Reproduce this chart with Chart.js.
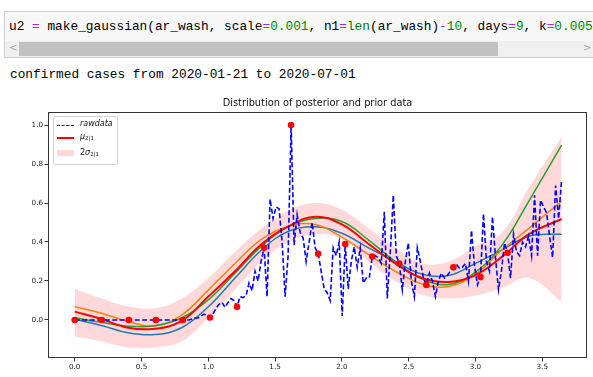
<!DOCTYPE html>
<html>
<head>
<meta charset="utf-8">
<script src="https://cdn.jsdelivr.net/npm/chart.js@4.4.0/dist/chart.umd.min.js"></script>
<style>
body { margin:0; width:593px; height:377px; overflow:hidden; background:#fff; position:relative; font-family:"DejaVu Sans", sans-serif; }
.cell { position:absolute; left:4px; top:11px; width:620px; height:45px; border:1px solid #cfcfcf; background:#f7f7f7; overflow:hidden; }
.code { position:absolute; left:4px; top:7px; font-family:"Liberation Mono", monospace; font-size:12.8px; line-height:15px; white-space:pre; color:#000; }
.o { color:#aa22ff; }
.n { color:#008800; }
.b { color:#008000; }
.scroll { position:absolute; left:0; top:29px; width:620px; height:16px; background:#f0f0f0; }
.thumb { position:absolute; left:14px; top:1px; width:479px; height:14px; background:#c1c1c1; }
.arrow { position:absolute; top:1px; font-size:10px; color:#a3a3a3; }
.out { position:absolute; left:10px; top:67px; font-family:"Liberation Mono", monospace; font-size:12.8px; line-height:15px; white-space:pre; color:#000; }
#chartBox { position:absolute; left:0; top:91px; }
.legend { position:absolute; left:53px; top:116px; width:63px; height:47px; border:1px solid #d5d5d5; border-radius:2px; background:rgba(255,255,255,0.85); font-size:8px; color:#111; }
.row { position:absolute; left:3px; height:10px; }
.row .sw { position:absolute; left:0; width:17px; }
.row .lab { position:absolute; left:23px; top:-1px; white-space:nowrap; font-style:italic; }
.row sub { font-size:5.5px; font-style:normal; vertical-align:-1px; }
</style>
</head>
<body>
<div class="cell">
  <div class="code">u2 <span class="o">=</span> make_gaussian(ar_wash, scale<span class="o">=</span><span class="n">0.001</span>, n1<span class="o">=</span><span class="b">len</span>(ar_wash)<span class="o">-</span><span class="n">10</span>, days<span class="o">=</span><span class="n">9</span>, k<span class="o">=</span><span class="n">0.005</span>)</div>
  <div class="scroll">
    <span class="arrow" style="left:4px">&lt;</span>
    <div class="thumb"></div>
    <span class="arrow" style="left:578px">&gt;</span>
  </div>
</div>
<div class="out">confirmed cases from 2020-01-21 to 2020-07-01</div>

<canvas id="chartBox" width="593" height="286"></canvas>

<div class="legend">
  <div class="row" style="top:3px"><div class="sw" style="top:5px;border-top:1.5px dashed #0000ff"></div><span class="lab">rawdata</span></div>
  <div class="row" style="top:16px"><div class="sw" style="top:4px;border-top:2px solid #ff0000"></div><span class="lab">μ<sub>2|1</sub></span></div>
  <div class="row" style="top:32px"><div class="sw" style="top:1px;height:6px;background:#ffd9d9"></div><span class="lab"><span style="font-style:normal">2</span>σ<sub>2|1</sub></span></div>
</div>

<script>
// raw daily values, one per day (day 0 .. 162)
const rawData = [
  0, 0, 0, 0, 0, 0, 0, 0, 0, 0, 0, 0, 0, 0, 0, 0, 0, 0, 0, 0,
  0, 0, 0, 0, 0, 0, 0, 0, 0, 0, 0, 0, 0, 0, 0, 0, 0, 0, 0, 0.005,
  0.01, 0.01, 0.02, 0.03, 0.025, 0.013, 0.03, 0.06, 0.08, 0.09, 0.065, 0.09, 0.11, 0.1, 0.068, 0.12, 0.115, 0.125, 0.19, 0.15,
  0.25, 0.2, 0.3, 0.37, 0.12, 0.62, 0.52, 0.58, 0.57, 0.4, 0.12, 0.33, 1.0, 0.385, 0.54, 0.45, 0.42, 0.3, 0.4, 0.5,
  0.37, 0.34, 0.25, 0.16, 0.14, 0.1, 0.37, 0.33, 0.4, 0.02, 0.39, 0.16, 0.3, 0.375, 0.27, 0.37, 0.19, 0.215, 0.215, 0.325,
  0.33, 0.32, 0.29, 0.555, 0.11, 0.35, 0.64, 0.33, 0.29, 0.155, 0.3, 0.395, 0.2, 0.12, 0.37, 0.3, 0.215, 0.18, 0.24, 0.2,
  0.12, 0.2, 0.24, 0.215, 0.23, 0.25, 0.27, 0.285, 0.265, 0.27, 0.29, 0.2, 0.46, 0.28, 0.18, 0.22, 0.545, 0.3, 0.25, 0.53,
  0.32, 0.155, 0.255, 0.395, 0.345, 0.215, 0.44, 0.35, 0.33, 0.4, 0.375, 0.43, 0.33, 0.64, 0.33, 0.615, 0.58, 0.55, 0.43, 0.32,
  0.69, 0.52, 0.72
];
const dayStep = 0.0225;

// sampled days (every 9th day) shown as red dots
const dotDays = [0, 9, 18, 27, 36, 45, 54, 63, 72, 81, 90, 99, 108, 117, 126, 135, 144];
const dotValues = [0, 0, 0, 0, 0, 0.013, 0.068, 0.37, 1.0, 0.34, 0.39, 0.325, 0.29, 0.18, 0.27, 0.22, 0.345];

// smooth curves
const curveX = [0, 0.2, 0.4, 0.6, 0.8, 1.0, 1.2, 1.4, 1.6, 1.8, 2.0, 2.2, 2.4, 2.6, 2.8, 3.0, 3.2, 3.4, 3.645];
const muCurve = [0.043, 0.005, -0.04, -0.045, -0.005, 0.12, 0.25, 0.39, 0.48, 0.53, 0.49, 0.39, 0.29, 0.215, 0.195, 0.23, 0.325, 0.44, 0.518];
const orangeCurve = [0.068, 0.035, -0.008, -0.03, 0.025, 0.154, 0.29, 0.415, 0.48, 0.49, 0.425, 0.335, 0.25, 0.185, 0.172, 0.235, 0.36, 0.47, 0.61];
const greenCurve = [0.012, -0.012, -0.032, -0.03, 0.01, 0.103, 0.24, 0.38, 0.48, 0.52, 0.505, 0.41, 0.3, 0.21, 0.182, 0.245, 0.385, 0.61, 0.897];
const blueCurve = [0.004, -0.028, -0.066, -0.075, -0.04, 0.068, 0.215, 0.36, 0.455, 0.478, 0.445, 0.37, 0.3, 0.235, 0.228, 0.29, 0.36, 0.43, 0.44];
const bandUpper = [0.16, 0.11, 0.07, 0.06, 0.11, 0.215, 0.35, 0.47, 0.56, 0.6, 0.565, 0.47, 0.37, 0.29, 0.3, 0.38, 0.45, 0.68, 0.94];
const bandLower = [-0.085, -0.11, -0.14, -0.14, -0.11, 0.01, 0.155, 0.3, 0.4, 0.44, 0.415, 0.3, 0.2, 0.13, 0.11, 0.125, 0.165, 0.215, 0.094];

const xTicks = [0, 0.5, 1.0, 1.5, 2.0, 2.5, 3.0, 3.5];
const yTicks = [0, 0.2, 0.4, 0.6, 0.8, 1.0];

function pairs(xs, ys) {
    return ys.map((y, i) => ({ x: xs[i], y: y }));
}

// draw the full box around the plot like matplotlib spines
const frame = {
    id: 'frame',
    afterDatasetsDraw(chart) {
        const a = chart.chartArea;
        const ctx = chart.ctx;
        ctx.save();
        ctx.strokeStyle = '#333';
        ctx.lineWidth = 1;
        ctx.strokeRect(Math.round(a.left) + 0.5, Math.round(a.top) + 0.5, Math.round(a.right - a.left) - 1, Math.round(a.bottom - a.top) - 1);
        ctx.restore();
    }
};

const tickFont = { family: 'DejaVu Sans', size: 7.2 };
const curveStyle = { pointRadius: 0, borderWidth: 1.5, tension: 0.4, fill: false };

new Chart(document.getElementById('chartBox'), {
    type: 'line',
    data: {
        datasets: [
            { label: 'dots', data: pairs(dotDays.map(d => d * dayStep), dotValues), showLine: false,
              pointRadius: 3.3, pointBackgroundColor: '#ff0000', pointBorderWidth: 0, borderColor: '#ff0000' },
            { label: 'rawdata', data: pairs(rawData.map((v, i) => i * dayStep), rawData), borderColor: '#0000ff',
              borderWidth: 1.6, borderDash: [5, 2.5], pointRadius: 0, tension: 0, fill: false },
            { label: 'mu', data: pairs(curveX, muCurve), ...curveStyle, borderColor: '#ff0000', borderWidth: 2 },
            { label: 'green', data: pairs(curveX, greenCurve), ...curveStyle, borderColor: '#2ca02c' },
            { label: 'orange', data: pairs(curveX, orangeCurve), ...curveStyle, borderColor: '#ff7f0e' },
            { label: 'blue', data: pairs(curveX, blueCurve), ...curveStyle, borderColor: '#1f77b4' },
            { label: 'upper', data: pairs(curveX, bandUpper), pointRadius: 0, borderWidth: 0, tension: 0.4, fill: false, borderColor: 'rgba(0,0,0,0)' },
            { label: 'lower', data: pairs(curveX, bandLower), pointRadius: 0, borderWidth: 0, tension: 0.4, fill: '-1',
              borderColor: 'rgba(0,0,0,0)', backgroundColor: 'rgba(255,0,0,0.15)' }
        ]
    },
    options: {
        responsive: false,
        animation: false,
        devicePixelRatio: 1,
        layout: { padding: { left: 0, right: 6, top: 0, bottom: 0 } },
        plugins: {
            legend: { display: false },
            tooltip: { enabled: false },
            title: {
                display: true,
                fullSize: false,
                text: 'Distribution of posterior and prior data',
                font: { family: 'DejaVu Sans', size: 9.8, weight: 'normal' },
                color: '#111',
                padding: { top: 6.4, bottom: 2.8 }
            }
        },
        scales: {
            x: {
                type: 'linear',
                min: -0.2,
                max: 3.835,
                afterBuildTicks: axis => { axis.ticks = xTicks.map(v => ({ value: v })); },
                afterFit: axis => { axis.height = 19; },
                ticks: { font: tickFont, color: '#222', padding: 1, maxRotation: 0, callback: v => v.toFixed(1) },
                grid: { drawOnChartArea: false, drawTicks: true, tickLength: 3.5, color: '#333' },
                border: { display: false }
            },
            y: {
                min: -0.195,
                max: 1.067,
                afterBuildTicks: axis => { axis.ticks = yTicks.map(v => ({ value: v })); },
                afterFit: axis => { axis.width = 48; },
                ticks: { font: tickFont, color: '#222', padding: 1.5, callback: v => v.toFixed(1) },
                grid: { drawOnChartArea: false, drawTicks: true, tickLength: 3.5, color: '#333' },
                border: { display: false }
            }
        }
    },
    plugins: [frame]
});
</script>
</body>
</html>
